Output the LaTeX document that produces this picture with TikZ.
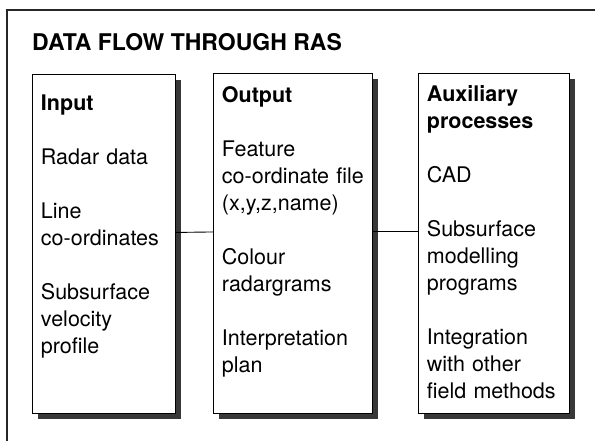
\documentclass[tikz,border=0pt]{standalone}
\usepackage{fontspec}
\setmainfont{TeX Gyre Heros}
\usetikzlibrary{shadows}

\tikzstyle{block} = [rectangle, draw, line width=0.9pt, fill=white, anchor=north west, align=left, inner xsep=8.5pt, inner ysep=0pt, font=\fontsize{21.5}{27}\selectfont, drop shadow={shadow xshift=6pt, shadow yshift=-6pt, fill=black!78, opacity=1}]
\tikzstyle{link} = [draw, line width=0.9pt]
\newcommand{\gap}{\\[27pt]}

\begin{document}
\begin{tikzpicture}[x=1pt, y=-1pt]
        \useasboundingbox (0,0) rectangle (595,441);
        % frame round the figure
        \draw[line width=1.1pt, black!85] (595,10) -- (7,10) -- (7,441);
        \node (title) at (32,51) [anchor=base west, inner sep=0pt, font=\bfseries\fontsize{23}{27}\selectfont] {DATA FLOW THROUGH RAS};
        % the three columns
        \node (in) at (32,74) [block, text width=126pt, text height=36pt, text depth=303pt] {
            \textbf{Input}\gap
            Radar data\gap
            Line\\ co-ordinates\gap
            Subsurface\\ velocity\\ profile
};
        \node (out) at (213,73) [block, text width=142pt, text height=29pt, text depth=311pt] {
            \textbf{Output}\gap
            Feature\\ co-ordinate file\\ (x,y,z,name)\gap
            Colour\\ radargrams\gap
            Interpretation\\ plan
};
        \node (aux) at (418,73) [block, text width=134pt, text height=28.5pt, text depth=311.5pt] {
            \textbf{Auxiliary}\\ \textbf{processes}\gap
            CAD\gap
            Subsurface\\ modelling\\ programs\gap
            Integration\\ with other\\ field methods
};
        \draw[link] ([yshift=11.5pt]in.east) -- ([yshift=11.5pt]out.west);
        \draw[link] ([yshift=11.5pt]out.east) -- ([yshift=11.5pt]aux.west);
    \end{tikzpicture}
\end{document}
